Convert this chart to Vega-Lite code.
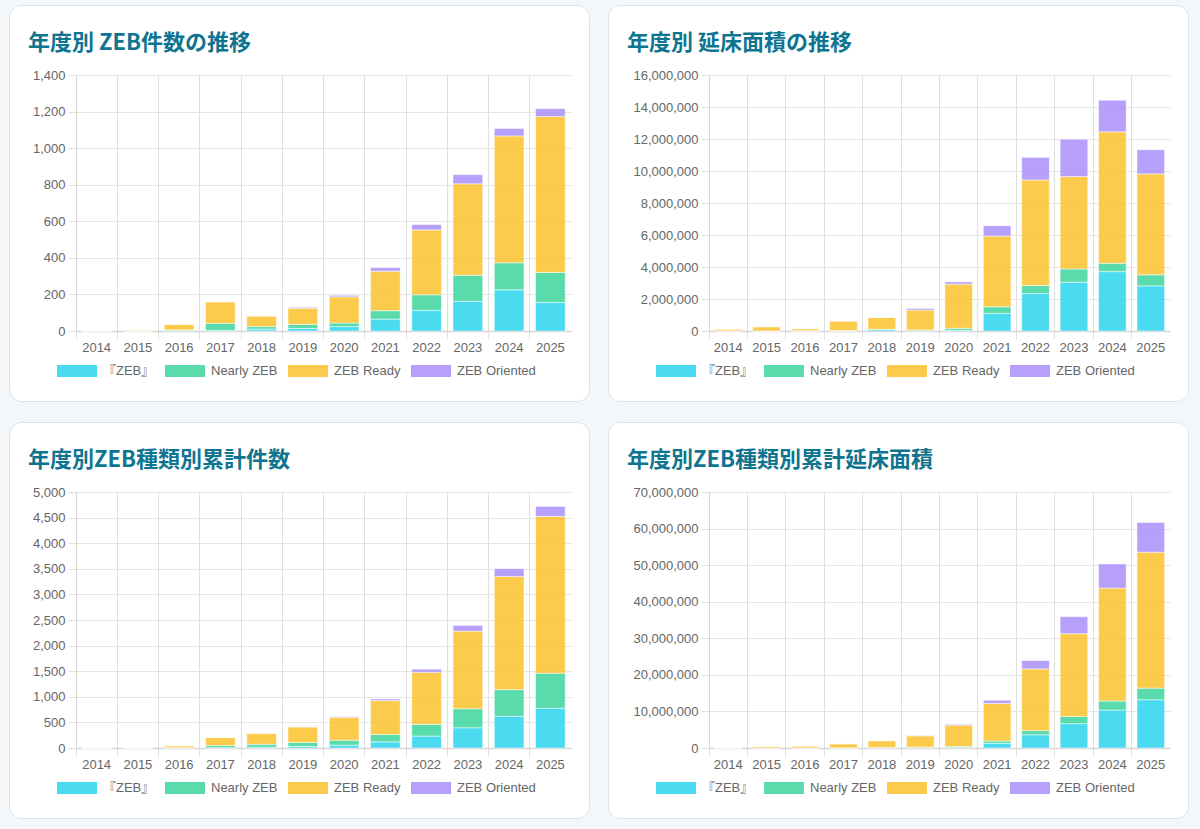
{
  "$schema": "https://vega.github.io/schema/vega-lite/v6.json",
  "background": "#f4f7fa",
  "padding": {"left": 8, "top": 4, "right": 13, "bottom": 12},
  "datasets": {
    "types": [
      {"type": "『ZEB』", "stack": 1},
      {"type": "Nearly ZEB", "stack": 2},
      {"type": "ZEB Ready", "stack": 3},
      {"type": "ZEB Oriented", "stack": 4}
    ],
    "annual": [
      {"year": "2014", "type": "『ZEB』", "count": 0, "area": 0},
      {"year": "2014", "type": "Nearly ZEB", "count": 1, "area": 6000},
      {"year": "2014", "type": "ZEB Ready", "count": 2, "area": 115000},
      {"year": "2014", "type": "ZEB Oriented", "count": 0, "area": 0},
      {"year": "2015", "type": "『ZEB』", "count": 0, "area": 0},
      {"year": "2015", "type": "Nearly ZEB", "count": 0, "area": 0},
      {"year": "2015", "type": "ZEB Ready", "count": 5, "area": 268000},
      {"year": "2015", "type": "ZEB Oriented", "count": 0, "area": 0},
      {"year": "2016", "type": "『ZEB』", "count": 3, "area": 5000},
      {"year": "2016", "type": "Nearly ZEB", "count": 3, "area": 12000},
      {"year": "2016", "type": "ZEB Ready", "count": 30, "area": 128000},
      {"year": "2016", "type": "ZEB Oriented", "count": 0, "area": 0},
      {"year": "2017", "type": "『ZEB』", "count": 3, "area": 4000},
      {"year": "2017", "type": "Nearly ZEB", "count": 39, "area": 28000},
      {"year": "2017", "type": "ZEB Ready", "count": 118, "area": 590000},
      {"year": "2017", "type": "ZEB Oriented", "count": 0, "area": 0},
      {"year": "2018", "type": "『ZEB』", "count": 11, "area": 95000},
      {"year": "2018", "type": "Nearly ZEB", "count": 13, "area": 15000},
      {"year": "2018", "type": "ZEB Ready", "count": 58, "area": 740000},
      {"year": "2018", "type": "ZEB Oriented", "count": 0, "area": 0},
      {"year": "2019", "type": "『ZEB』", "count": 14, "area": 20000},
      {"year": "2019", "type": "Nearly ZEB", "count": 22, "area": 45000},
      {"year": "2019", "type": "ZEB Ready", "count": 89, "area": 1245000},
      {"year": "2019", "type": "ZEB Oriented", "count": 5, "area": 98000},
      {"year": "2020", "type": "『ZEB』", "count": 24, "area": 45000},
      {"year": "2020", "type": "Nearly ZEB", "count": 20, "area": 125000},
      {"year": "2020", "type": "ZEB Ready", "count": 143, "area": 2760000},
      {"year": "2020", "type": "ZEB Oriented", "count": 8, "area": 140000},
      {"year": "2021", "type": "『ZEB』", "count": 65, "area": 1100000},
      {"year": "2021", "type": "Nearly ZEB", "count": 46, "area": 410000},
      {"year": "2021", "type": "ZEB Ready", "count": 216, "area": 4420000},
      {"year": "2021", "type": "ZEB Oriented", "count": 20, "area": 650000},
      {"year": "2022", "type": "『ZEB』", "count": 113, "area": 2340000},
      {"year": "2022", "type": "Nearly ZEB", "count": 85, "area": 500000},
      {"year": "2022", "type": "ZEB Ready", "count": 355, "area": 6600000},
      {"year": "2022", "type": "ZEB Oriented", "count": 29, "area": 1410000},
      {"year": "2023", "type": "『ZEB』", "count": 162, "area": 3050000},
      {"year": "2023", "type": "Nearly ZEB", "count": 143, "area": 830000},
      {"year": "2023", "type": "ZEB Ready", "count": 500, "area": 5770000},
      {"year": "2023", "type": "ZEB Oriented", "count": 50, "area": 2340000},
      {"year": "2024", "type": "『ZEB』", "count": 225, "area": 3710000},
      {"year": "2024", "type": "Nearly ZEB", "count": 148, "area": 520000},
      {"year": "2024", "type": "ZEB Ready", "count": 694, "area": 8220000},
      {"year": "2024", "type": "ZEB Oriented", "count": 40, "area": 1970000},
      {"year": "2025", "type": "『ZEB』", "count": 156, "area": 2820000},
      {"year": "2025", "type": "Nearly ZEB", "count": 164, "area": 690000},
      {"year": "2025", "type": "ZEB Ready", "count": 853, "area": 6310000},
      {"year": "2025", "type": "ZEB Oriented", "count": 43, "area": 1510000}
    ],
    "cumulative": [
      {"year": "2014", "type": "『ZEB』", "count": 0, "area": 0},
      {"year": "2014", "type": "Nearly ZEB", "count": 1, "area": 6000},
      {"year": "2014", "type": "ZEB Ready", "count": 2, "area": 115000},
      {"year": "2014", "type": "ZEB Oriented", "count": 0, "area": 0},
      {"year": "2015", "type": "『ZEB』", "count": 0, "area": 0},
      {"year": "2015", "type": "Nearly ZEB", "count": 1, "area": 6000},
      {"year": "2015", "type": "ZEB Ready", "count": 7, "area": 383000},
      {"year": "2015", "type": "ZEB Oriented", "count": 0, "area": 0},
      {"year": "2016", "type": "『ZEB』", "count": 3, "area": 5000},
      {"year": "2016", "type": "Nearly ZEB", "count": 4, "area": 18000},
      {"year": "2016", "type": "ZEB Ready", "count": 37, "area": 511000},
      {"year": "2016", "type": "ZEB Oriented", "count": 0, "area": 0},
      {"year": "2017", "type": "『ZEB』", "count": 6, "area": 9000},
      {"year": "2017", "type": "Nearly ZEB", "count": 43, "area": 46000},
      {"year": "2017", "type": "ZEB Ready", "count": 155, "area": 1101000},
      {"year": "2017", "type": "ZEB Oriented", "count": 0, "area": 0},
      {"year": "2018", "type": "『ZEB』", "count": 17, "area": 104000},
      {"year": "2018", "type": "Nearly ZEB", "count": 56, "area": 61000},
      {"year": "2018", "type": "ZEB Ready", "count": 213, "area": 1841000},
      {"year": "2018", "type": "ZEB Oriented", "count": 0, "area": 0},
      {"year": "2019", "type": "『ZEB』", "count": 31, "area": 124000},
      {"year": "2019", "type": "Nearly ZEB", "count": 78, "area": 106000},
      {"year": "2019", "type": "ZEB Ready", "count": 302, "area": 3086000},
      {"year": "2019", "type": "ZEB Oriented", "count": 5, "area": 98000},
      {"year": "2020", "type": "『ZEB』", "count": 55, "area": 169000},
      {"year": "2020", "type": "Nearly ZEB", "count": 98, "area": 231000},
      {"year": "2020", "type": "ZEB Ready", "count": 445, "area": 5846000},
      {"year": "2020", "type": "ZEB Oriented", "count": 13, "area": 238000},
      {"year": "2021", "type": "『ZEB』", "count": 120, "area": 1269000},
      {"year": "2021", "type": "Nearly ZEB", "count": 144, "area": 641000},
      {"year": "2021", "type": "ZEB Ready", "count": 661, "area": 10266000},
      {"year": "2021", "type": "ZEB Oriented", "count": 33, "area": 888000},
      {"year": "2022", "type": "『ZEB』", "count": 233, "area": 3609000},
      {"year": "2022", "type": "Nearly ZEB", "count": 229, "area": 1141000},
      {"year": "2022", "type": "ZEB Ready", "count": 1016, "area": 16866000},
      {"year": "2022", "type": "ZEB Oriented", "count": 62, "area": 2298000},
      {"year": "2023", "type": "『ZEB』", "count": 395, "area": 6659000},
      {"year": "2023", "type": "Nearly ZEB", "count": 372, "area": 1971000},
      {"year": "2023", "type": "ZEB Ready", "count": 1516, "area": 22636000},
      {"year": "2023", "type": "ZEB Oriented", "count": 112, "area": 4638000},
      {"year": "2024", "type": "『ZEB』", "count": 620, "area": 10369000},
      {"year": "2024", "type": "Nearly ZEB", "count": 520, "area": 2491000},
      {"year": "2024", "type": "ZEB Ready", "count": 2210, "area": 30856000},
      {"year": "2024", "type": "ZEB Oriented", "count": 152, "area": 6608000},
      {"year": "2025", "type": "『ZEB』", "count": 776, "area": 13189000},
      {"year": "2025", "type": "Nearly ZEB", "count": 684, "area": 3181000},
      {"year": "2025", "type": "ZEB Ready", "count": 3063, "area": 37166000},
      {"year": "2025", "type": "ZEB Oriented", "count": 195, "area": 8118000}
    ]
  },
  "columns": 2,
  "spacing": {"row": 21, "column": 19},
  "bounds": "flush",
  "resolve": {"legend": {"color": "independent"}},
  "concat": [
    {
      "width": 580,
      "height": 396,
      "data": {"name": "annual"},
      "transform": [{"lookup": "type", "from": {"data": {"name": "types"}, "key": "type", "fields": ["stack"]}}],
      "title": {"text": "年度別 ZEB件数の推移"},
      "mark": {"type": "bar", "width": {"band": 0.72}, "fillOpacity": 0.82, "stroke": "white", "strokeOpacity": 0.5, "strokeWidth": 1},
      "encoding": {
        "x": {"field": "year", "type": "ordinal", "scale": {"range": [67, 562], "paddingInner": 0, "paddingOuter": 0}, "axis": {"offset": -70}},
        "y": {"field": "count", "type": "quantitative", "stack": "zero", "scale": {"domain": [0, 1400], "range": [326, 70], "nice": false}, "axis": {"offset": -67, "values": [0, 200, 400, 600, 800, 1000, 1200, 1400]}},
        "color": {"field": "type", "type": "nominal", "scale": {"domain": ["『ZEB』", "Nearly ZEB", "ZEB Ready", "ZEB Oriented"], "range": ["#22d3ee", "#34d399", "#fbbf24", "#a78bfa"]}},
        "order": {"field": "stack", "type": "quantitative", "sort": "ascending"}
      }
    },
    {
      "width": 580,
      "height": 396,
      "data": {"name": "annual"},
      "transform": [{"lookup": "type", "from": {"data": {"name": "types"}, "key": "type", "fields": ["stack"]}}],
      "title": {"text": "年度別 延床面積の推移"},
      "mark": {"type": "bar", "width": {"band": 0.72}, "fillOpacity": 0.82, "stroke": "white", "strokeOpacity": 0.5, "strokeWidth": 1},
      "encoding": {
        "x": {"field": "year", "type": "ordinal", "scale": {"range": [101, 562], "paddingInner": 0, "paddingOuter": 0}, "axis": {"offset": -70}},
        "y": {"field": "area", "type": "quantitative", "stack": "zero", "scale": {"domain": [0, 16000000], "range": [326, 70], "nice": false}, "axis": {"offset": -101, "values": [0, 2000000, 4000000, 6000000, 8000000, 10000000, 12000000, 14000000, 16000000]}},
        "color": {"field": "type", "type": "nominal", "scale": {"domain": ["『ZEB』", "Nearly ZEB", "ZEB Ready", "ZEB Oriented"], "range": ["#22d3ee", "#34d399", "#fbbf24", "#a78bfa"]}},
        "order": {"field": "stack", "type": "quantitative", "sort": "ascending"}
      }
    },
    {
      "width": 580,
      "height": 396,
      "data": {"name": "cumulative"},
      "transform": [{"lookup": "type", "from": {"data": {"name": "types"}, "key": "type", "fields": ["stack"]}}],
      "title": {"text": "年度別ZEB種類別累計件数"},
      "mark": {"type": "bar", "width": {"band": 0.72}, "fillOpacity": 0.82, "stroke": "white", "strokeOpacity": 0.5, "strokeWidth": 1},
      "encoding": {
        "x": {"field": "year", "type": "ordinal", "scale": {"range": [67, 562], "paddingInner": 0, "paddingOuter": 0}, "axis": {"offset": -70}},
        "y": {"field": "count", "type": "quantitative", "stack": "zero", "scale": {"domain": [0, 5000], "range": [326, 70], "nice": false}, "axis": {"offset": -67, "values": [0, 500, 1000, 1500, 2000, 2500, 3000, 3500, 4000, 4500, 5000]}},
        "color": {"field": "type", "type": "nominal", "scale": {"domain": ["『ZEB』", "Nearly ZEB", "ZEB Ready", "ZEB Oriented"], "range": ["#22d3ee", "#34d399", "#fbbf24", "#a78bfa"]}},
        "order": {"field": "stack", "type": "quantitative", "sort": "ascending"}
      }
    },
    {
      "width": 580,
      "height": 396,
      "data": {"name": "cumulative"},
      "transform": [{"lookup": "type", "from": {"data": {"name": "types"}, "key": "type", "fields": ["stack"]}}],
      "title": {"text": "年度別ZEB種類別累計延床面積"},
      "mark": {"type": "bar", "width": {"band": 0.72}, "fillOpacity": 0.82, "stroke": "white", "strokeOpacity": 0.5, "strokeWidth": 1},
      "encoding": {
        "x": {"field": "year", "type": "ordinal", "scale": {"range": [101, 562], "paddingInner": 0, "paddingOuter": 0}, "axis": {"offset": -70}},
        "y": {"field": "area", "type": "quantitative", "stack": "zero", "scale": {"domain": [0, 70000000], "range": [326, 70], "nice": false}, "axis": {"offset": -101, "values": [0, 10000000, 20000000, 30000000, 40000000, 50000000, 60000000, 70000000]}},
        "color": {"field": "type", "type": "nominal", "scale": {"domain": ["『ZEB』", "Nearly ZEB", "ZEB Ready", "ZEB Oriented"], "range": ["#22d3ee", "#34d399", "#fbbf24", "#a78bfa"]}},
        "order": {"field": "stack", "type": "quantitative", "sort": "ascending"}
      }
    }
  ],
  "config": {
    "view": {"fill": "white", "stroke": "#dbe4ec", "strokeWidth": 1, "cornerRadius": 12},
    "font": "Liberation Sans",
    "axis": {
      "title": null,
      "labelFont": "Liberation Sans",
      "labelFontSize": 13,
      "labelColor": "#666666",
      "gridColor": "#e5e5e5",
      "gridWidth": 1,
      "tickColor": "#e0e0e0",
      "tickSize": 8,
      "domainColor": "#d6d6d6"
    },
    "axisX": {
      "labelAngle": 0,
      "labelPadding": 2,
      "bandPosition": 0,
      "grid": true,
      "gridColor": "#dedede",
      "ticks": true,
      "domainWidth": 1.5
    },
    "axisY": {
      "format": ",d",
      "labelPadding": 3,
      "grid": true
    },
    "legend": {
      "orient": "none",
      "legendX": 48,
      "legendY": 346,
      "direction": "horizontal",
      "title": null,
      "padding": 0,
      "symbolType": "M-1,-0.3H1V0.3H-1Z",
      "symbolSize": 1600,
      "symbolStrokeWidth": 0,
      "symbolOpacity": 0.82,
      "labelFont": "Liberation Sans, Noto Sans CJK JP",
      "labelFontSize": 13,
      "labelColor": "#666666",
      "labelOffset": 6,
      "columnPadding": 10
    },
    "title": {
      "anchor": "start",
      "frame": "group",
      "offset": 0,
      "dx": 19,
      "dy": 54,
      "baseline": "alphabetic",
      "font": "Noto Sans CJK JP",
      "fontSize": 22,
      "fontWeight": "bold",
      "color": "#0e7490"
    }
  }
}
